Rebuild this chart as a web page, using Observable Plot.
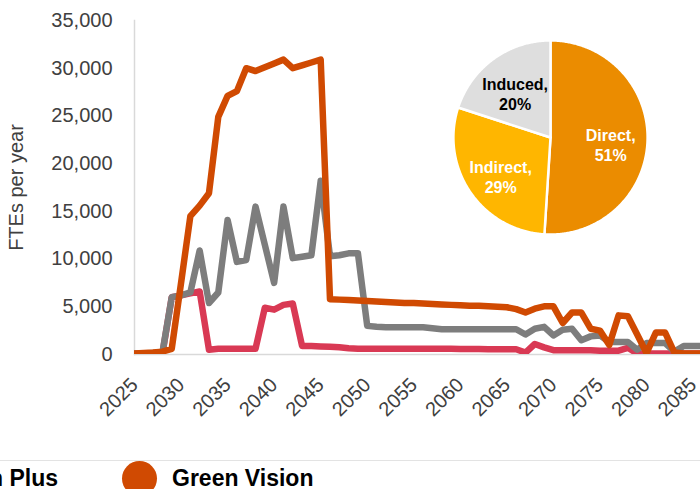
<!DOCTYPE html>
<html><head><meta charset="utf-8">
<script src="https://cdn.jsdelivr.net/npm/d3@7"></script>
<script src="https://cdn.jsdelivr.net/npm/@observablehq/plot@0.6"></script>
<style>
body{margin:0;background:#fff;font-family:Arial,"Liberation Sans",sans-serif;}
#wrap{position:relative;width:700px;height:489px;overflow:hidden;background:#fff;}
#chart{position:absolute;left:0;top:0;}
#pie{position:absolute;left:450px;top:37px;}
#legend{position:absolute;left:0;top:460px;width:700px;height:29px;border-top:1px solid #e3e3e3;}
.item{position:absolute;top:0;height:35px;display:flex;align-items:center;font-weight:bold;font-size:23px;line-height:1;color:#000;white-space:nowrap;}
.dot{width:35px;height:35px;border-radius:50%;margin-right:15px;flex:none;}
</style></head><body>
<div id="wrap"><div id="chart"></div><div id="pie"></div><div id="legend"></div></div>
<script>
// ---- data ----
const years = d3.range(2025, 2087); // 2025..2086, annual categories
const greenVision = [100,150,200,300,600,7500,14500,15600,16900,24900,27100,27600,30000,29700,30100,30500,30900,30000,30300,30600,30900,
  5800,5750,5700,5650,5600,5550,5500,5450,5400,5400,5350,5300,5250,5200,5150,5100,5100,5050,5000,4950,4750,4400,4800,5050,5050,
  3300,4400,4400,2700,2500,1000,4100,4000,2100,150,2300,2300,200,100,100,100];
const greySeries = [100,100,150,200,6000,6200,6500,10900,5400,6500,14100,9700,9900,15500,11500,7500,15500,10100,10250,10400,18200,
  10300,10400,10600,10600,3000,2900,2850,2850,2850,2850,2850,2750,2650,2650,2650,2650,2650,2650,2650,2650,2650,2100,2700,2900,2000,
  2600,2700,1500,1900,2000,1300,1300,1300,500,1200,1200,1200,300,900,900,900];
const roseSeries = [50,50,50,100,6000,6200,6400,6600,500,600,600,600,600,600,4900,4700,5200,5350,900,900,850,
  800,750,650,600,600,600,600,600,600,600,600,600,600,600,580,580,570,560,560,550,550,200,1100,750,450,
  450,450,450,450,400,400,400,700,100,100,100,100,100,100,100,100];
const xTicks = [2025,2030,2035,2040,2045,2050,2055,2060,2065,2070,2075,2080,2085];
const yTicks = [0,5000,10000,15000,20000,25000,30000,35000];
const yLabel = "FTEs per year";

const pieCategories = ["Direct","Indirect","Induced"];
const pieValues = [51,29,20];
const pieColors = ["#EB8C00","#FFB600","#DEDEDE"];
const pieTextColors = ["#ffffff","#ffffff","#000000"];

const legendItems = [
  {label:"n Plus", color:null},
  {label:"Green Vision", color:"#D04A02"}
];

// ---- main line chart ----
const rows = (vals) => years.map((y,i)=>({year:y, value:vals[i]}));
const font = 'Arial, "Liberation Sans", sans-serif';
const chart = Plot.plot({
  width: 700, height: 455,
  marginLeft: 134, marginRight: 0, marginTop: 20, marginBottom: 101,
  style: {fontSize: "20px", fontFamily: font, color: "#404040", background: "transparent"},
  x: {type: "linear", domain: [2025, 2085.8], ticks: xTicks, tickFormat: d => String(d), tickRotate: -45, tickSize: 0, tickPadding: 27, label: null},
  y: {domain: [0, 35000], ticks: yTicks, tickFormat: d3.format(","), tickSize: 0, tickPadding: 22, label: yLabel, labelAnchor: "center", labelOffset: 126, labelArrow: "none"},
  marks: [
    Plot.ruleY([0], {stroke: "#d9d9d9", strokeWidth: 1.5}),
    Plot.frame({anchor: "left", stroke: "#d9d9d9", strokeWidth: 1.5}),
    Plot.lineY(rows(roseSeries), {x: "year", y: "value", stroke: "#D93954", strokeWidth: 6.5, strokeLinejoin: "round", clip: true}),
    Plot.lineY(rows(greySeries), {x: "year", y: "value", stroke: "#7D7D7D", strokeWidth: 6.5, strokeLinejoin: "round", clip: true}),
    Plot.lineY(rows(greenVision), {x: "year", y: "value", stroke: "#D04A02", strokeWidth: 6.5, strokeLinejoin: "round", clip: true})
  ]
});
document.getElementById("chart").appendChild(chart);

// ---- pie ----
const arcs = d3.pie().sort(null).value(d => d)(pieValues);
const slicePts = arcs.flatMap((a, i) => {
  const n = Math.max(2, Math.ceil((a.endAngle - a.startAngle) / 0.01));
  const pts = [{s: i, x: 0, y: 0}];
  for (let k = 0; k <= n; k++) {
    const t = a.startAngle + (a.endAngle - a.startAngle) * k / n;
    pts.push({s: i, x: Math.sin(t), y: Math.cos(t)});
  }
  pts.push({s: i, x: 0, y: 0});
  return pts;
});
const pieLabels = arcs.map((a, i) => {
  const m = (a.startAngle + a.endAngle) / 2;
  return {x: 0.62 * Math.sin(m), y: 0.62 * Math.cos(m), text: `${pieCategories[i]},\n${pieValues[i]}%`, c: pieTextColors[i]};
});
const pie = Plot.plot({
  width: 200, height: 200, margin: 0,
  style: {background: "transparent", fontFamily: font},
  x: {domain: [-1.03, 1.03], axis: null},
  y: {domain: [-1.03, 1.03], axis: null},
  color: {type: "identity"},
  marks: [
    Plot.line(slicePts, {x: "x", y: "y", z: "s", fill: d => pieColors[d.s], stroke: "#ffffff", strokeWidth: 2.5, strokeLinejoin: "round"}),
    Plot.text(pieLabels, {x: "x", y: "y", text: "text", fill: "c", fontSize: 16, fontWeight: "bold", lineHeight: 1.25, dy: 5})
  ]
});
document.getElementById("pie").appendChild(pie);

// ---- legend ----
const legend = document.getElementById("legend");
legendItems.forEach((it, i) => {
  const d = document.createElement("div");
  d.className = "item";
  if (it.color) {
    d.style.left = "122px";
    const dot = document.createElement("span");
    dot.className = "dot"; dot.style.background = it.color;
    d.appendChild(dot);
  } else {
    d.style.right = "642px";
  }
  const t = document.createElement("span");
  t.textContent = it.label;
  d.appendChild(t);
  legend.appendChild(d);
});
</script>
</body></html>
